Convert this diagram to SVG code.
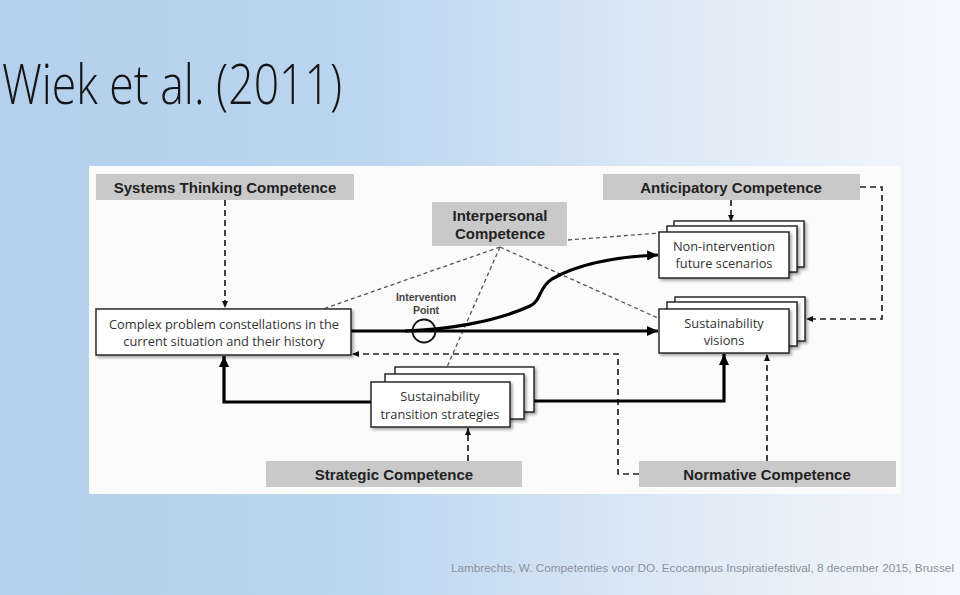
<svg xmlns="http://www.w3.org/2000/svg" width="960" height="595" viewBox="0 0 960 595">
<defs>
<linearGradient id="bg" x1="0" y1="0" x2="1" y2="0">
<stop offset="0" stop-color="#b3cfeb"/>
<stop offset="0.38" stop-color="#bcd6ef"/>
<stop offset="0.7" stop-color="#dde9f6"/>
<stop offset="1" stop-color="#f5f8fc"/>
</linearGradient>
<filter id="sh" x="-10%" y="-10%" width="130%" height="140%">
<feDropShadow dx="2" dy="2" stdDeviation="1.5" flood-color="#000" flood-opacity="0.35"/>
</filter>
<marker id="big" markerUnits="userSpaceOnUse" markerWidth="11" markerHeight="10" refX="11" refY="5" orient="auto">
<path d="M0,0 L11,5 L0,10 z" fill="#000"/>
</marker>
<marker id="sm" markerUnits="userSpaceOnUse" markerWidth="7" markerHeight="6" refX="7" refY="3" orient="auto">
<path d="M0,0 L7,3 L0,6 z" fill="#111"/>
</marker>
</defs>
<style>
.comp{fill:#c9c9c9}
.ct{font-family:"Liberation Sans",Arial,sans-serif;font-weight:bold;font-size:15px;fill:#222;text-anchor:middle}
.card{fill:#fff;stroke:#1e1e1e;stroke-width:1.4}
.bt{font-family:"Open Sans","Liberation Sans",sans-serif;font-size:12.8px;fill:#333;text-anchor:middle}
.thick{fill:none;stroke:#000;stroke-width:3.2}
.dash{fill:none;stroke:#222;stroke-width:1.7;stroke-dasharray:6,4}
.idash{fill:none;stroke:#555;stroke-width:1.3;stroke-dasharray:4,3}
</style>
<rect width="960" height="595" fill="url(#bg)"/>
<text x="2" y="104" font-family="'Open Sans','Liberation Sans',sans-serif" font-weight="300" font-size="55" fill="#151515" textLength="340" lengthAdjust="spacingAndGlyphs">Wiek et al. (2011)</text>
<rect x="89" y="166" width="812" height="328" fill="#fbfbfb"/>

<g id="connectors">
<path class="dash" d="M225,200 V308" marker-end="url(#sm)"/>
<path class="dash" d="M731,200 V222" marker-end="url(#sm)"/>
<path class="dash" d="M860,187 H882 V319 H806" marker-end="url(#sm)"/>
<path class="dash" d="M767,461 V354" marker-end="url(#sm)"/>
<path class="dash" d="M639,474 H618 V354 H352" marker-end="url(#sm)"/>
<path class="dash" d="M468,461 V428" marker-end="url(#sm)"/>
<path class="idash" d="M500,247 L323,309"/>
<path class="idash" d="M500,247 L658,318"/>
<path class="idash" d="M500,247 L447,367"/>
<path class="idash" d="M568,240 L660,233"/>
<path class="thick" d="M351,331 H658" marker-end="url(#big)"/>
<path class="thick" d="M405,331 C445,330 495,322 530,306 C542,300 538,288 552,279 C578,264 612,257 658,255" marker-end="url(#big)"/>
<path class="thick" d="M371,402 H224 V356" marker-end="url(#big)"/>
<path class="thick" d="M534,401 H724 V354" marker-end="url(#big)"/>
<circle cx="424" cy="331" r="11.5" fill="none" stroke="#111" stroke-width="1.8"/>
<text x="426" y="301" font-family="'Liberation Sans',Arial,sans-serif" font-weight="bold" font-size="10.5" fill="#444" text-anchor="middle">Intervention</text>
<text x="426" y="314" font-family="'Liberation Sans',Arial,sans-serif" font-weight="bold" font-size="10.5" fill="#444" text-anchor="middle">Point</text>
</g>

<g id="systems-thinking">
<rect class="comp" x="96" y="174" width="258" height="26"/>
<text class="ct" x="225" y="193">Systems Thinking Competence</text>
</g>
<g id="interpersonal">
<rect class="comp" x="432" y="202" width="135" height="44"/>
<text class="ct" x="500" y="221">Interpersonal</text>
<text class="ct" x="500" y="239">Competence</text>
</g>
<g id="anticipatory">
<rect class="comp" x="603" y="174" width="257" height="26"/>
<text class="ct" x="731" y="193">Anticipatory Competence</text>
</g>
<g id="strategic">
<rect class="comp" x="266" y="461" width="256" height="26"/>
<text class="ct" x="394" y="480">Strategic Competence</text>
</g>
<g id="normative">
<rect class="comp" x="639" y="461" width="257" height="26"/>
<text class="ct" x="767" y="480">Normative Competence</text>
</g>

<g id="complex-problem">
<rect class="card" x="96" y="309" width="255" height="46" filter="url(#sh)"/>
<text class="bt" x="224" y="329">Complex problem constellations in the</text>
<text class="bt" x="224" y="346">current situation and their history</text>
</g>
<g id="non-intervention">
<rect class="card" x="674" y="221" width="130" height="46" filter="url(#sh)"/>
<rect class="card" x="667" y="226" width="130" height="46" filter="url(#sh)"/>
<rect class="card" x="659" y="232" width="130" height="46" filter="url(#sh)"/>
<text class="bt" x="724" y="251">Non-intervention</text>
<text class="bt" x="724" y="268">future scenarios</text>
</g>
<g id="visions">
<rect class="card" x="675" y="297" width="130" height="44" filter="url(#sh)"/>
<rect class="card" x="667" y="302" width="130" height="44" filter="url(#sh)"/>
<rect class="card" x="659" y="309" width="130" height="44" filter="url(#sh)"/>
<text class="bt" x="724" y="328">Sustainability</text>
<text class="bt" x="724" y="345">visions</text>
</g>
<g id="strategies">
<rect class="card" x="395" y="367" width="139" height="45" filter="url(#sh)"/>
<rect class="card" x="385" y="374" width="139" height="45" filter="url(#sh)"/>
<rect class="card" x="371" y="382" width="139" height="45" filter="url(#sh)"/>
<text class="bt" x="440" y="401">Sustainability</text>
<text class="bt" x="440" y="419">transition strategies</text>
</g>

<text x="451" y="572" font-family="'Liberation Sans',Arial,sans-serif" font-size="11" fill="#8b929b" textLength="503" lengthAdjust="spacingAndGlyphs">Lambrechts, W. Competenties voor DO. Ecocampus Inspiratiefestival, 8 december 2015, Brussel</text>
</svg>
